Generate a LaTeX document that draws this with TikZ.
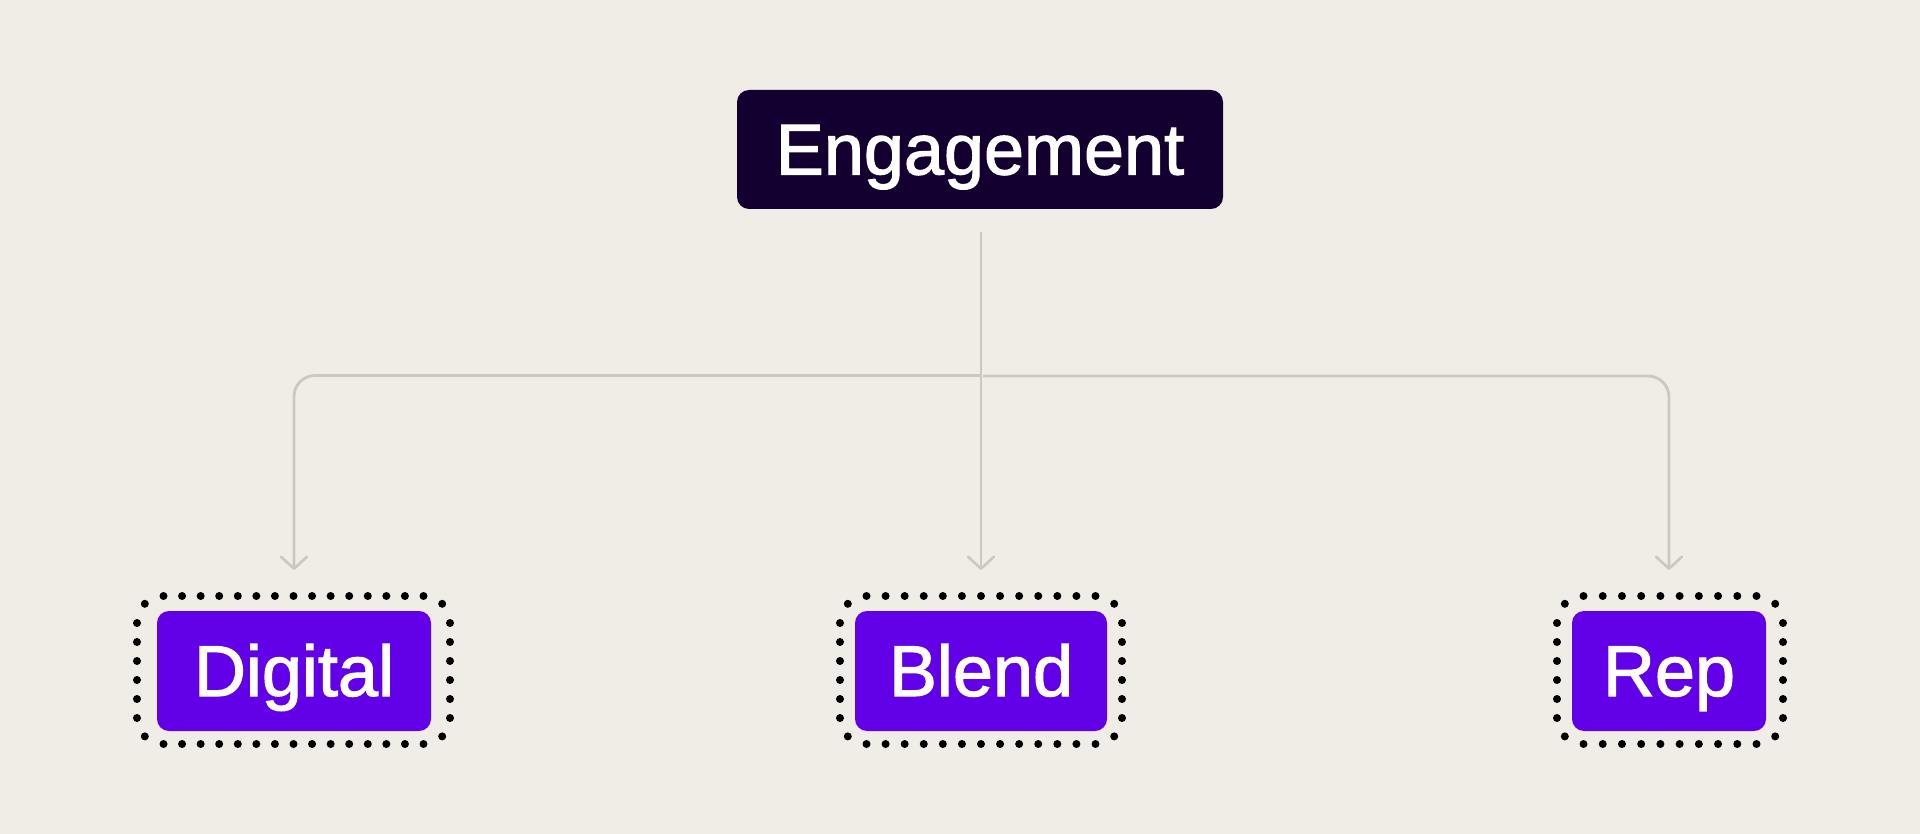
\documentclass[tikz,border=0pt]{standalone}
\usepackage{fontspec}
\setmainfont{Liberation Sans}
\newfontfamily\medfont{Liberation Sans}[FakeBold=1.6]
\usetikzlibrary{arrows.meta}
\definecolor{bgc}{HTML}{F0EDE6}
\definecolor{darkbox}{HTML}{140030}
\definecolor{purplebox}{HTML}{6200E8}
\definecolor{linec}{HTML}{CCC8C0}
\tikzset{
  rootbox/.style={fill=darkbox, text=white, rounded corners=12pt, inner sep=0pt,
    minimum width=486pt, minimum height=119pt, text height=50pt, text depth=0pt,
    font=\medfont\fontsize{72}{80}\selectfont},
  leafbox/.style={fill=purplebox, text=white, rounded corners=12pt, inner sep=0pt,
    minimum height=120pt, text height=50pt, text depth=0pt,
    font=\medfont\fontsize{72}{80}\selectfont},
  conn/.style={draw=linec, line width=2.8pt, rounded corners=21pt,
    -{Straight Barb[length=12pt,width=26pt,line width=2.6pt,round]}},
  dotc/.style={fill=black}
}
\newcommand{\mydotframe}[3]{%
  % #1 = left x, #2 = right x, #3 = number of dots on top/bottom rows
  \foreach \i in {0,...,\numexpr#3-1\relax}{
    \pgfmathsetmacro{\xx}{#1+26.5+\i*(#2-#1-53)/(#3-1)}
    \fill[dotc] (\xx,596) circle[radius=4pt];
    \fill[dotc] (\xx,744) circle[radius=4pt];
  }
  \foreach \j in {0,...,5}{
    \pgfmathsetmacro{\yy}{623+\j*19}
    \fill[dotc] (#1,\yy) circle[radius=4pt];
    \fill[dotc] (#2,\yy) circle[radius=4pt];
  }
  \fill[dotc] (#1+7.8,603.8) circle[radius=4pt];
  \fill[dotc] (#2-7.8,603.8) circle[radius=4pt];
  \fill[dotc] (#1+7.8,736.4) circle[radius=4pt];
  \fill[dotc] (#2-7.8,736.4) circle[radius=4pt];
}
\begin{document}
\begin{tikzpicture}[x=1pt,y=-1pt]
  \fill[bgc] (0,0) rectangle (1920,834);
  \useasboundingbox (0,0) rectangle (1920,834);

  \node[rootbox] (eng) at (980,149.5) {Engagement};
  \node[leafbox, minimum width=274pt] (dig) at (294,671) {Digital};
  \node[leafbox, minimum width=252pt] (ble) at (981,671) {Blend};
  \node[leafbox, minimum width=194pt] (rep) at (1669,671) {Rep};

  \mydotframe{137}{450}{15}
  \mydotframe{840}{1122}{13}
  \mydotframe{1557}{1783}{10}

  \coordinate (top) at (981,232);
  \coordinate (hubl) at (981,375.5);
  \coordinate (hubr) at (983,376);
  \coordinate (tipd) at (294,570);
  \coordinate (tipb) at (981,570);
  \coordinate (tipr) at (1669,570);

  \draw[conn] (hubl) -| (tipd);
  \draw[conn] (hubr) -| (tipr);
  \draw[conn] (top) -- (tipb);
\end{tikzpicture}
\end{document}
